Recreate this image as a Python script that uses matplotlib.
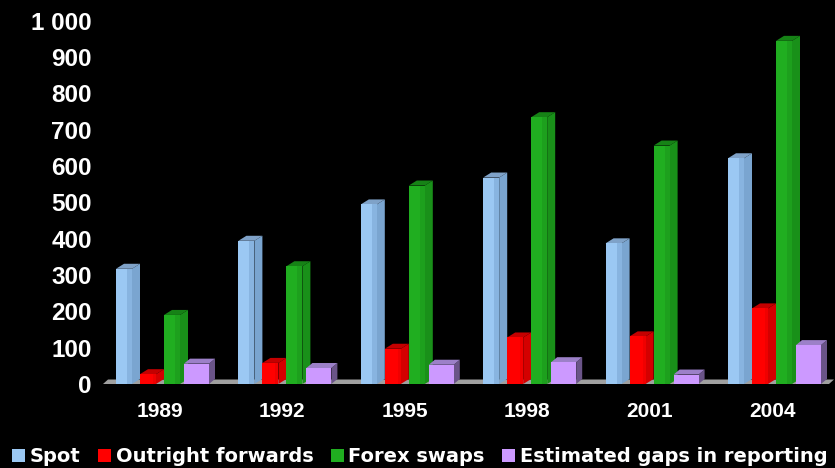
import matplotlib
matplotlib.use("Agg")
import matplotlib.pyplot as plt
from matplotlib.patches import Polygon, Rectangle

# Daily turnover by instrument (USD billions)
years = ["1989", "1992", "1995", "1998", "2001", "2004"]
spot = [317, 394, 494, 568, 387, 621]
outright_forwards = [27, 58, 97, 128, 131, 208]
forex_swaps = [190, 324, 546, 734, 656, 944]
reporting_gaps = [56, 44, 53, 60, 26, 107]

series_names = ["Spot", "Outright forwards", "Forex swaps", "Estimated gaps in reporting"]
series_values = [spot, outright_forwards, forex_swaps, reporting_gaps]

y_ticks = [0, 100, 200, 300, 400, 500, 600, 700, 800, 900, 1000]
y_tick_labels = ["0", "100", "200", "300", "400", "500", "600", "700", "800", "900", "1 000"]

# face colours: front, bevel strip, side, top
palette = [
    ("#9BC8F3", "#88B4E0", "#7AA5D0", "#7FA2C8"),
    ("#FF0000", "#F00000", "#D40000", "#C40000"),
    ("#20AE20", "#1DA01D", "#199019", "#168216"),
    ("#CC99FF", "#C592F5", "#6A5488", "#9C80C8"),
]

W, H, DPI = 835, 468, 100
fig = plt.figure(figsize=(W / DPI, H / DPI), dpi=DPI, facecolor="black")

ax_left, ax_right = 100, 835
ax_bottom, ax_top = 384, 20.5
ax = fig.add_axes([ax_left / W, (H - ax_bottom) / H,
                   (ax_right - ax_left) / W, (ax_bottom - ax_top) / H])
ax.set_facecolor("black")

px_per_x = 122.4
x0 = -(160 - ax_left) / px_per_x
ax.set_xlim(x0, x0 + (ax_right - ax_left) / px_per_x)
ax.set_ylim(0, 1000)
px_per_y = (ax_bottom - ax_top) / 1000.0


def px_x(p):
    return p / px_per_x


def px_y(p):
    return p / px_per_y


# bar geometry in pixels: front offset, front width, bevel width, side depth
geometry = [(-44, 16, 5, 8), (-20, 16, 3, 8), (4, 16, 5, 8), (24, 25, 0, 6)]
rise = px_y(5)

# floor slab
floor_left, floor_right = px_x(103 - 160), x0 + (ax_right - ax_left) / px_per_x - px_x(6)
ax.add_patch(Polygon([(floor_left, 0), (floor_right, 0),
                      (floor_right + px_x(5), px_y(4.5)), (floor_left + px_x(5), px_y(4.5))],
                     closed=True, facecolor="#A0A0A0", edgecolor="none",
                     zorder=1, clip_on=False))

for gi in range(len(years)):
    for si, values in enumerate(series_values):
        v = values[gi]
        off, fw, bw, sd = geometry[si]
        front, bevel, side, top = palette[si]
        xl = gi + px_x(off)
        xr = xl + px_x(fw)
        dx = px_x(sd)
        z = 2 + gi * 0.1 + si * 0.01
        # side face
        ax.add_patch(Polygon([(xr, 0), (xr + dx, rise), (xr + dx, v + rise), (xr, v)],
                             closed=True, facecolor=side, edgecolor="none",
                             zorder=z, clip_on=False))
        # top face
        ax.add_patch(Polygon([(xl, v), (xr, v), (xr + dx, v + rise), (xl + dx, v + rise)],
                             closed=True, facecolor=top, edgecolor="none",
                             zorder=z, clip_on=False))
        # front face
        ax.add_patch(Rectangle((xl, 0), xr - xl, v, facecolor=front,
                               edgecolor="none", zorder=z + 0.001, clip_on=False))
        if bw:
            ax.add_patch(Rectangle((xr - px_x(bw), 0), px_x(bw), v, facecolor=bevel,
                                   edgecolor="none", zorder=z + 0.002, clip_on=False))

for s in ax.spines.values():
    s.set_visible(False)

ax.set_xticks(range(len(years)))
ax.set_xticklabels(years)
ax.set_yticks(y_ticks)
ax.set_yticklabels(y_tick_labels)
ax.tick_params(axis="both", length=0, colors="white")
ax.tick_params(axis="x", pad=13)
ax.tick_params(axis="y", pad=5.8)
for lab in ax.get_xticklabels():
    lab.set_fontfamily("Liberation Sans")
    lab.set_fontweight("bold")
    lab.set_fontsize(15)
for lab in ax.get_yticklabels():
    lab.set_fontfamily("Liberation Sans")
    lab.set_fontweight("bold")
    lab.set_fontsize(17.5)

handles = [Rectangle((0, 0), 1, 1, facecolor=palette[i][0], edgecolor="none")
           for i in range(len(series_names))]
fs = 14
em = fs * DPI / 72.0
fig.legend(handles, series_names, ncol=4, frameon=False,
           loc="center left", bbox_to_anchor=(12 / W, 1 - 457 / H),
           borderpad=0, borderaxespad=0,
           handlelength=13 / em, handleheight=12 / em,
           handletextpad=5 / em, columnspacing=17 / em,
           prop={"family": "DejaVu Sans", "weight": "bold", "size": fs},
           labelcolor="white")

fig.savefig("out.png", dpi=DPI, facecolor="black")
